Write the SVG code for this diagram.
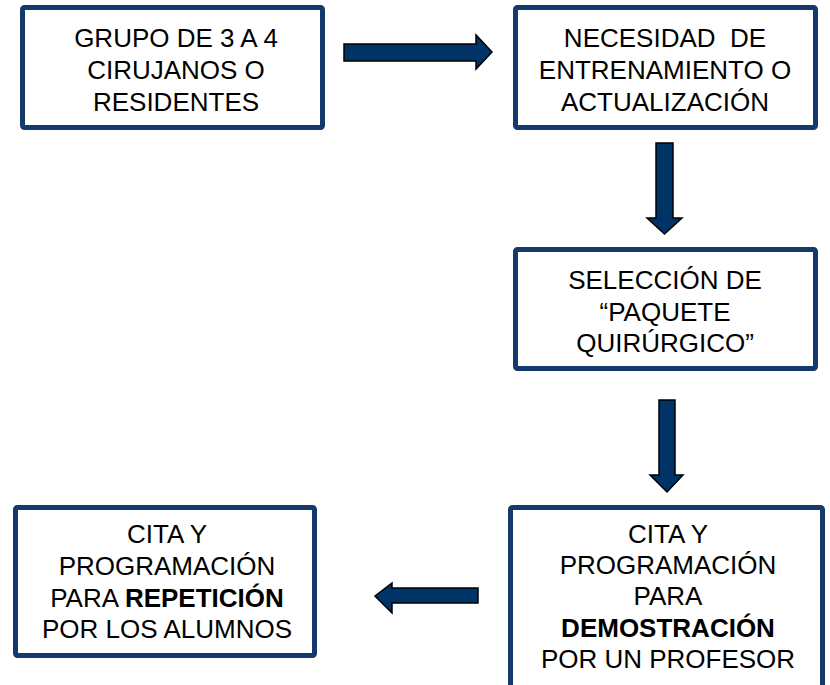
<svg xmlns="http://www.w3.org/2000/svg" width="830" height="685" viewBox="0 0 830 685">
<style>
.box{fill:#fff;stroke:#133a6a;stroke-width:5}
.arr{fill:#003366;stroke:#000;stroke-width:1.5;stroke-linejoin:miter}
text{font-family:"Liberation Sans",Arial,sans-serif;font-size:26px;fill:#000;text-anchor:middle}
.b{font-weight:bold}
</style>
<rect width="830" height="685" fill="#fff"/>
<g id="n1">
<rect class="box" x="22.5" y="7.5" width="300" height="120" rx="2"/>
<text x="176" y="47">GRUPO DE 3 A 4</text>
<text x="176" y="79">CIRUJANOS O</text>
<text x="176" y="111">RESIDENTES</text>
</g>
<g id="n2">
<rect class="box" x="515.5" y="7.5" width="300" height="120" rx="2"/>
<text x="665" y="47" xml:space="preserve">NECESIDAD  DE</text>
<text x="665" y="79">ENTRENAMIENTO O</text>
<text x="665" y="111">ACTUALIZACIÓN</text>
</g>
<g id="n3">
<rect class="box" x="515.5" y="249.5" width="300" height="119" rx="2"/>
<text x="665" y="289">SELECCIÓN DE</text>
<text x="665" y="321">“PAQUETE</text>
<text x="665" y="352">QUIRÚRGICO”</text>
</g>
<g id="n4">
<rect class="box" x="510.5" y="507.5" width="312" height="185" rx="2"/>
<text x="668" y="543">CITA Y</text>
<text x="668" y="574">PROGRAMACIÓN</text>
<text x="668" y="605">PARA</text>
<text x="668" y="637" class="b">DEMOSTRACIÓN</text>
<text x="668" y="668">POR UN PROFESOR</text>
</g>
<g id="n5">
<rect class="box" x="15.5" y="507.5" width="299" height="148" rx="2"/>
<text x="167" y="543">CITA Y</text>
<text x="167" y="575">PROGRAMACIÓN</text>
<text x="167" y="607">PARA <tspan class="b">REPETICIÓN</tspan></text>
<text x="167" y="638">POR LOS ALUMNOS</text>
</g>
<g id="connectors">
<polygon class="arr" points="344,44 476,44 476,35 492,52 476,69 476,61 344,61"/>
<polygon class="arr" points="656,143 673,143 673,218 682,218 664.5,234 647,218 656,218"/>
<polygon class="arr" points="659,400 675,400 675,475 683,475 667,492 650,475 659,475"/>
<polygon class="arr" points="478,588 392,588 392,583 375,596 392,613 392,603 478,603"/>
</g>
</svg>
